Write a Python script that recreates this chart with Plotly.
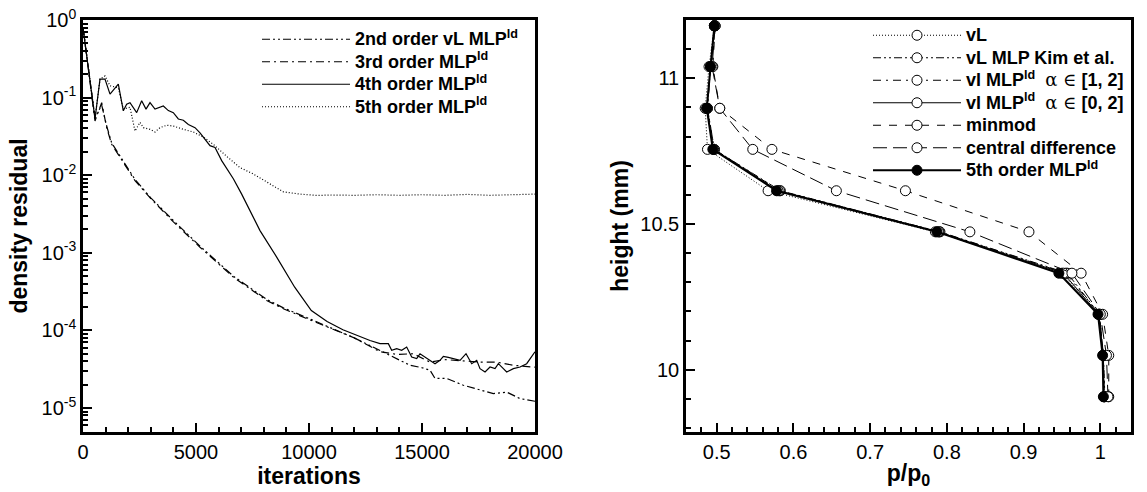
import plotly.graph_objects as go

FONT = "Liberation Sans, Arial, sans-serif"

# ---------------- left panel: convergence histories ----------------
it_2nd = [0, 531, 827, 1047, 1270, 1637, 2006, 2301, 3000, 4000, 5177, 6652, 8128, 8865,
          10000, 11000, 12000, 13142, 14470, 15000, 15355, 15576, 16093, 16830, 17567,
          18157, 18747, 19337, 20000]
res_2nd = [0.8, 0.055, 0.08, 0.043, 0.026, 0.0175, 0.0118, 0.0088, 0.0051, 0.0026, 0.00122,
           5.0e-4, 2.5e-4, 1.95e-4, 1.42e-4, 1.07e-4, 8.0e-5, 5.5e-5, 3.55e-5, 3.3e-5,
           3.06e-5, 2.4e-5, 2.4e-5, 1.96e-5, 1.69e-5, 1.53e-5, 1.6e-5, 1.32e-5, 1.22e-5]

it_3rd = [0, 531, 827, 1047, 1270, 1637, 2006, 2301, 3000, 4000, 5177, 6652, 8128, 8865,
          10000, 11000, 12000, 13142, 13900, 14617, 15355, 16000, 16830, 17600, 18305,
          19042, 20000]
res_3rd = [0.8, 0.05, 0.086, 0.041, 0.025, 0.017, 0.0114, 0.0085, 0.0050, 0.0025, 0.00118,
           4.85e-4, 2.43e-4, 1.9e-4, 1.38e-4, 1.05e-4, 8.0e-5, 5.3e-5, 4.9e-5, 5.0e-5,
           3.9e-5, 4.2e-5, 4.0e-5, 3.9e-5, 3.9e-5, 3.55e-5, 3.35e-5]

it_4th = [0, 531, 752, 973, 1195, 1563, 1784, 1932, 2080, 2375, 2596, 2788, 2965, 3186,
          3555, 3776, 3997, 4218, 4439, 4661, 4956, 5177, 5619, 5841, 6136, 6652, 7021,
          7832, 8570, 9367, 10103, 10800, 11500, 12200, 12700, 13142, 13511, 13658, 13880,
          14101, 14322, 14544, 14765, 14912, 15133, 15355, 15576, 15797, 15945, 16166,
          16388, 16683, 16948, 17200, 17421, 17567, 17789, 18010, 18231, 18379, 18600,
          18747, 19042, 19337, 19632, 19926, 20000]
res_4th = [0.8, 0.053, 0.173, 0.173, 0.111, 0.149, 0.0676, 0.082, 0.086, 0.064, 0.091,
           0.071, 0.086, 0.071, 0.078, 0.068, 0.064, 0.053, 0.051, 0.045, 0.041, 0.035,
           0.024, 0.0228, 0.0154, 0.009, 0.0057, 0.00193, 8.8e-4, 3.6e-4, 1.8e-4, 1.3e-4,
           1.02e-4, 8.4e-5, 7.4e-5, 6.74e-5, 6.74e-5, 5.53e-5, 5.81e-5, 5.53e-5, 6.1e-5,
           4.54e-5, 4.33e-5, 5.0e-5, 4.54e-5, 4.11e-5, 3.72e-5, 4.11e-5, 4.63e-5, 4.49e-5,
           4.33e-5, 4.11e-5, 5.0e-5, 3.72e-5, 4.11e-5, 3.21e-5, 2.91e-5, 3.37e-5, 3.21e-5,
           3.72e-5, 3.21e-5, 2.91e-5, 3.21e-5, 3.37e-5, 3.72e-5, 5.0e-5, 5.3e-5]

it_5th = [0, 531, 752, 973, 1195, 1563, 1784, 2080, 2301, 2522, 2670, 2965, 3186, 3407,
          3703, 3997, 4439, 4882, 5324, 5766, 6357, 6947, 7500, 8128, 8865, 9602, 10340,
          11000, 12000, 13000, 14000, 15000, 16000, 17000, 18000, 19000, 20000]
res_5th = [0.8, 0.055, 0.173, 0.19, 0.142, 0.134, 0.071, 0.075, 0.037, 0.048, 0.041, 0.039,
           0.036, 0.041, 0.044, 0.043, 0.039, 0.036, 0.031, 0.025, 0.0175, 0.0125, 0.0105,
           0.0082, 0.0061, 0.0057, 0.00548, 0.00555, 0.0055, 0.0056, 0.0055, 0.0056, 0.0055,
           0.00565, 0.0055, 0.0056, 0.0057]

left_names = ["2nd order vL MLP<sup>ld</sup>", "3rd order MLP<sup>ld</sup>",
              "4th order MLP<sup>ld</sup>", "5th order MLP<sup>ld</sup>"]

res_tickvals = [1, 1e-1, 1e-2, 1e-3, 1e-4, 1e-5]
res_ticktext = ["10<sup>0</sup>", "10<sup>-1</sup>", "10<sup>-2</sup>", "10<sup>-3</sup>",
                "10<sup>-4</sup>", "10<sup>-5</sup>"]

# ---------------- right panel: pressure profiles ----------------
height = [11.18, 11.04, 10.897, 10.756, 10.614, 10.473, 10.331, 10.19, 10.049, 9.907]
p_vL = [0.497, 0.490, 0.485, 0.488, 0.567, 0.785, 0.950, 0.998, 1.004, 1.005]
p_kim = [0.497, 0.492, 0.488, 0.497, 0.583, 0.791, 0.957, 0.999, 1.004, 1.006]
p_a12 = [0.497, 0.492, 0.488, 0.497, 0.582, 0.790, 0.955, 0.999, 1.004, 1.005]
p_a02 = [0.497, 0.492, 0.487, 0.496, 0.580, 0.789, 0.952, 0.998, 1.004, 1.005]
p_minmod = [0.498, 0.495, 0.504, 0.572, 0.746, 0.907, 0.975, 1.003, 1.011, 1.011]
p_central = [0.498, 0.494, 0.504, 0.547, 0.656, 0.830, 0.963, 1.000, 1.008, 1.010]
p_5th = [0.497, 0.492, 0.487, 0.495, 0.578, 0.787, 0.946, 0.997, 1.003, 1.004]


def big(txt):
    return "<span style='font-size:18px'>" + txt + "</span>"


fig = go.Figure()

left_series = [(it_2nd, res_2nd, "8px,3px,2px,3px,2px,3px"),
               (it_3rd, res_3rd, "8px,4px,2px,4px"),
               (it_4th, res_4th, "solid"),
               (it_5th, res_5th, "1px,2px")]
for (xs, ys, dash), nm in zip(left_series, left_names):
    fig.add_trace(go.Scatter(x=xs, y=ys, mode="lines", name=big("<b>" + nm + "</b>"),
                             line=dict(color="black", width=1.2, dash=dash),
                             xaxis="x", yaxis="y", legend="legend"))

alpha = "<span style='font-family:DejaVu Serif;font-weight:normal'>α ∈</span>"
right_series = [
    (p_vL, "<b>vL</b>", "1px,2px", 1.0, "white"),
    (p_kim, "<b>vL MLP Kim et al.</b>", "8px,3px,2px,3px,2px,3px", 1.0, "white"),
    (p_a12, "<b>vl MLP<sup>ld</sup></b>  " + alpha + " <b>[1, 2]</b>", "8px,5px,2px,5px", 1.0, "white"),
    (p_a02, "<b>vl MLP<sup>ld</sup></b>  " + alpha + " <b>[0, 2]</b>", "solid", 1.0, "white"),
    (p_minmod, "<b>minmod</b>", "8px,8px", 1.0, "white"),
    (p_central, "<b>central difference</b>", "14px,6px", 1.0, "white"),
    (p_5th, "<b>5th order MLP<sup>ld</sup></b>", "solid", 2.0, "black"),
]
for xs, nm, dash, w, fillc in right_series:
    fig.add_trace(go.Scatter(x=xs, y=height, mode="lines+markers", name=big(nm),
                             line=dict(color="black", width=w, dash=dash),
                             marker=dict(symbol="circle", size=10, color=fillc,
                                         line=dict(color="black", width=1)),
                             xaxis="x2", yaxis="y2", legend="legend2"))

axis_common = dict(showline=True, linecolor="black", linewidth=2.5, mirror=True,
                   ticks="inside", ticklen=9, tickwidth=2, tickcolor="black",
                   showgrid=False, zeroline=False,
                   tickfont=dict(family=FONT, size=20, color="black"))
title_font = dict(family=FONT, size=23, color="black")

minor_log = [k * 10.0 ** e for e in range(-6, 0) for k in range(2, 10)]

fig.update_layout(
    width=1147, height=492, autosize=False,
    margin=dict(l=0, r=0, t=0, b=0),
    paper_bgcolor="white", plot_bgcolor="white",
    font=dict(family=FONT, color="black"),
    xaxis=dict(domain=[83 / 1147, 535 / 1147], range=[0, 20000], tick0=0, dtick=5000,
               tickformat="d",
               minor=dict(dtick=1000, ticks="inside", ticklen=5, tickwidth=1.5, tickcolor="black"),
               title=dict(text="<b>iterations</b>", font=title_font, standoff=4),
               anchor="y", automargin=False, **axis_common),
    yaxis=dict(domain=[1 - 432 / 492, 1 - 20 / 492], type="log", range=[-5.31, 0],
               tickmode="array", tickvals=res_tickvals, ticktext=res_ticktext,
               minor=dict(tickmode="array", tickvals=minor_log, ticks="inside", ticklen=5,
                          tickwidth=1.5, tickcolor="black"),
               title=dict(text="<b>density residual</b>", font=title_font, standoff=8),
               anchor="x", automargin=False, **axis_common),
    xaxis2=dict(domain=[686 / 1147, 1131 / 1147], range=[0.46, 1.04], tick0=0.5, dtick=0.1,
                minor=dict(dtick=0.02, ticks="inside", ticklen=5, tickwidth=1.5, tickcolor="black"),
                title=dict(text="<b>p/p<sub>0</sub></b>", font=title_font, standoff=4),
                anchor="y2", automargin=False, **axis_common),
    yaxis2=dict(domain=[1 - 432 / 492, 1 - 20 / 492], range=[9.786, 11.2], tick0=10, dtick=0.5,
                minor=dict(dtick=0.1, ticks="inside", ticklen=5, tickwidth=1.5, tickcolor="black"),
                title=dict(text="<b>height (mm)</b>", font=title_font, standoff=6),
                anchor="x2", automargin=False, **axis_common),
    legend=dict(x=257 / 1147, y=1 - 23 / 492, xanchor="left", yanchor="top",
                bgcolor="rgba(0,0,0,0)", font=dict(family=FONT, size=15, color="black"),
                itemwidth=88, tracegroupgap=0),
    legend2=dict(x=868 / 1147, y=1 - 19 / 492, xanchor="left", yanchor="top",
                 bgcolor="rgba(0,0,0,0)", font=dict(family=FONT, size=15, color="black"),
                 itemwidth=88, tracegroupgap=0),
)

fig.write_html("out.html")
